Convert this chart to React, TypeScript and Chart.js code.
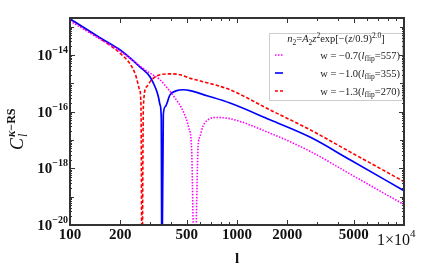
import React, { useEffect, useRef } from "react";
import { Chart, registerables } from "chart.js";
Chart.register(...registerables);

// w = -0.7 (l_flip = 557), magenta dotted
const L_W07 = [100, 151, 199, 262, 290, 346, 386, 424, 478, 514, 535, 557, 585, 600, 625, 670, 752, 908, 1576, 2736, 4750, 10000];
const C_W07 = [1.58e-13, 3.63e-14, 1.38e-14, 4.07e-15, 2.63e-15, 1.32e-15, 6.31e-16, 3.09e-16, 9.77e-17, 2.69e-17, 4.47e-18, 1e-22, 5.89e-18, 1.32e-17, 3.02e-17, 5.13e-17, 6.17e-17, 5.62e-17, 1.74e-17, 3.98e-18, 6.31e-19, 5.25e-20];

// w = -1.0 (l_flip = 355), blue solid
const L_W10 = [100, 123, 151, 199, 229, 262, 301, 320, 332, 340, 346, 352, 355, 362, 372, 397, 431, 478, 523, 661, 908, 1576, 2736, 4750, 10000];
const C_W10 = [1.86e-13, 8.71e-14, 4.07e-14, 1.51e-14, 7.76e-15, 3.8e-15, 1.7e-15, 8.5e-16, 4.9e-16, 2.9e-16, 1.74e-16, 6.03e-17, 1e-22, 7.76e-17, 1.51e-16, 3.89e-16, 5.37e-16, 5.89e-16, 5.5e-16, 3.63e-16, 2.0e-16, 5.13e-17, 1.26e-17, 2.0e-18, 1.62e-19];

// w = -1.3 (l_flip = 270), red dashed
const L_W13 = [100, 123, 151, 175, 199, 229, 248, 261, 266, 270, 275, 288, 308, 346, 397, 456, 523, 680, 908, 1576, 2736, 4750, 10000];
const C_W13 = [1.86e-13, 8.32e-14, 3.8e-14, 2.09e-14, 1.15e-14, 4.79e-15, 1.82e-15, 5.89e-16, 1.74e-16, 1e-22, 1.51e-16, 7.59e-16, 1.32e-15, 2.0e-15, 2.14e-15, 2.0e-15, 1.51e-15, 1.0e-15, 5.89e-16, 1.15e-16, 2.29e-17, 3.8e-18, 3.39e-19];

const X_MIN = 100;
const X_MAX = 10000;
const Y_MIN = 1e-20;
const Y_MAX = 2e-13;
const X_MAJOR = [100, 200, 500, 1000, 2000, 5000, 10000];
const X_TICK_LABELS = ["100", "200", "500", "1000", "2000", "5000"];
const Y_LABEL_EXPS = [-20, -18, -16, -14];
const LEGEND_W = ["−0.7", "−1.0", "−1.3"];
const LEGEND_FLIP = ["557", "355", "270"];
const LEGEND_COLORS = ["#ff00ff", "#0000ff", "#ff0000"];
const LEGEND_DASH = [[1.5, 1.5], [], [3, 2]];

const SERIF = '"Liberation Serif", "Times New Roman", serif';

type Run = { t: string; size: number; italic?: boolean; bold?: boolean; dy?: number };

function fontOf(r: Run) {
  return `${r.italic ? "italic " : ""}${r.bold ? "bold " : ""}${r.size}px ${SERIF}`;
}
function runsWidth(ctx: CanvasRenderingContext2D, runs: Run[]) {
  let w = 0;
  for (const r of runs) {
    ctx.font = fontOf(r);
    w += ctx.measureText(r.t).width;
  }
  return w;
}
function drawRuns(ctx: CanvasRenderingContext2D, runs: Run[], x: number, y: number) {
  let cx = x;
  ctx.textAlign = "left";
  ctx.textBaseline = "alphabetic";
  for (const r of runs) {
    ctx.font = fontOf(r);
    ctx.fillText(r.t, cx, y + (r.dy || 0));
    cx += ctx.measureText(r.t).width;
  }
  return cx;
}

const decorPlugin = {
  id: "decor",
  afterDatasetsDraw(chart: any) {
    const ctx: CanvasRenderingContext2D = chart.ctx;
    const { left, right, top, bottom } = chart.chartArea;
    const xs = chart.scales.x;
    const ys = chart.scales.y;
    ctx.save();

    // legend box
    const lx0 = 269, ly0 = 33, lx1 = 403, ly1 = 101;
    ctx.fillStyle = "#ffffff";
    ctx.fillRect(lx0, ly0, lx1 - lx0, ly1 - ly0);
    ctx.strokeStyle = "#cccccc";
    ctx.lineWidth = 1;
    ctx.strokeRect(lx0 + 0.5, ly0 + 0.5, lx1 - lx0 - 1, ly1 - ly0 - 1);
    ctx.fillStyle = "#222";
    const title: Run[] = [
      { t: "n", size: 10.5, italic: true },
      { t: "2", size: 7.5, dy: 2.5 },
      { t: "=", size: 10.5 },
      { t: "A", size: 10.5, italic: true },
      { t: "2", size: 7.5, dy: 2.5 },
      { t: "z", size: 10.5, italic: true },
      { t: "2", size: 7.5, dy: -4 },
      { t: "exp[−(", size: 10.5 },
      { t: "z", size: 10.5, italic: true },
      { t: "/0.9)", size: 10.5 },
      { t: "2.0", size: 7.5, dy: -4 },
      { t: "]", size: 10.5 },
    ];
    const tw = runsWidth(ctx, title);
    drawRuns(ctx, title, 336 - tw / 2, 42);
    const rowY = [55, 73, 91];
    for (let i = 0; i < 3; i++) {
      const y = rowY[i];
      ctx.strokeStyle = LEGEND_COLORS[i];
      ctx.lineWidth = 1.6;
      ctx.setLineDash(LEGEND_DASH[i]);
      ctx.beginPath();
      ctx.moveTo(275, y);
      ctx.lineTo(283, y);
      ctx.stroke();
      ctx.setLineDash([]);
      const runs: Run[] = [
        { t: `w = ${LEGEND_W[i]}(`, size: 10.5 },
        { t: "l", size: 10.5, italic: true },
        { t: "flip", size: 7.5, dy: 2.5 },
        { t: `=${LEGEND_FLIP[i]})`, size: 10.5 },
      ];
      ctx.fillStyle = "#222";
      const w = runsWidth(ctx, runs);
      drawRuns(ctx, runs, 400 - w, y + 3.5);
    }

    // frame
    ctx.strokeStyle = "#333";
    ctx.lineWidth = 2;
    ctx.strokeRect(left, top, right - left, bottom - top);

    // ticks
    ctx.lineWidth = 1;
    const seg = (x0: number, y0: number, x1: number, y1: number) => {
      ctx.beginPath();
      ctx.moveTo(x0, y0);
      ctx.lineTo(x1, y1);
      ctx.stroke();
    };
    for (let d = 2; d <= 4; d++) {
      for (let k = 1; k <= 9; k++) {
        const v = k * Math.pow(10, d);
        if (v < X_MIN || v > X_MAX) continue;
        const px = Math.round(xs.getPixelForValue(v)) + 0.5;
        const len = X_MAJOR.includes(v) ? 5 : 3;
        seg(px, bottom, px, bottom - len);
        seg(px, top, px, top + len);
      }
    }
    for (let e = -20; e <= -13; e++) {
      for (let k = 1; k <= 9; k++) {
        const v = k * Math.pow(10, e);
        if (v > Y_MAX) continue;
        const py = Math.round(ys.getPixelForValue(v)) + 0.5;
        const len = k === 1 ? (e % 2 === 0 ? 5 : 4) : 2;
        seg(left, py, left + len, py);
        seg(right, py, right - len, py);
      }
    }

    // y tick labels
    ctx.fillStyle = "#111";
    for (const e of Y_LABEL_EXPS) {
      const py = ys.getPixelForValue(Math.pow(10, e));
      const runs: Run[] = [
        { t: "10", size: 15, bold: true },
        { t: `−${-e}`, size: 10, bold: true, dy: -7 },
      ];
      const w = runsWidth(ctx, runs);
      drawRuns(ctx, runs, 68 - w, py + 5);
    }
    // x tick labels
    ctx.font = `bold 15px ${SERIF}`;
    ctx.textAlign = "center";
    ctx.textBaseline = "alphabetic";
    for (let i = 0; i < X_TICK_LABELS.length; i++) {
      const px = xs.getPixelForValue(X_MAJOR[i]);
      ctx.fillText(X_TICK_LABELS[i], px, 239);
    }
    {
      const px = xs.getPixelForValue(X_MAJOR[X_MAJOR.length - 1]);
      const runs: Run[] = [
        { t: "1×10", size: 16 },
        { t: "4", size: 11, dy: -8 },
      ];
      drawRuns(ctx, runs, px - 27, 245);
    }
    // x axis title
    ctx.font = `bold 15px ${SERIF}`;
    ctx.textAlign = "center";
    ctx.fillText("l", (left + right) / 2, 263);

    // y axis title (rotated)
    ctx.save();
    ctx.translate(23, 150);
    ctx.rotate(-Math.PI / 2);
    ctx.textAlign = "left";
    ctx.font = `italic 18px ${SERIF}`;
    ctx.fillText("C", 0, 0);
    const cw = ctx.measureText("C").width;
    ctx.font = `italic 12px ${SERIF}`;
    ctx.fillText("l", cw + 1, 4);
    const sup: Run[] = [
      { t: "κ", size: 12, italic: true, bold: true },
      { t: "−RS", size: 12, bold: true },
    ];
    drawRuns(ctx, sup, cw + 1, -8);
    ctx.restore();

    ctx.restore();
  },
};

export default function App() {
  const ref = useRef<HTMLCanvasElement | null>(null);
  useEffect(() => {
    if (!ref.current) return;
    const mk = (L: number[], C: number[]) => L.map((l, i) => ({ x: l, y: C[i] }));
    const chart = new Chart(ref.current, {
      type: "line",
      data: {
        datasets: [
          {
            label: "w = -0.7",
            data: mk(L_W07, C_W07),
            borderColor: "#ff00ff",
            borderWidth: 1.6,
            borderDash: [1.5, 1.5],
            pointRadius: 0,
            cubicInterpolationMode: "monotone",
          },
          {
            label: "w = -1.0",
            data: mk(L_W10, C_W10),
            borderColor: "#0000ff",
            borderWidth: 1.7,
            pointRadius: 0,
            cubicInterpolationMode: "monotone",
          },
          {
            label: "w = -1.3",
            data: mk(L_W13, C_W13),
            borderColor: "#ff0000",
            borderWidth: 1.6,
            borderDash: [3.5, 2],
            pointRadius: 0,
            cubicInterpolationMode: "monotone",
          },
        ],
      },
      options: {
        responsive: false,
        animation: false,
        layout: { padding: { left: 70, top: 18, right: 36, bottom: 50 } },
        plugins: { legend: { display: false }, tooltip: { enabled: false } },
        scales: {
          x: { type: "logarithmic", min: X_MIN, max: X_MAX, display: false },
          y: { type: "logarithmic", min: Y_MIN, max: Y_MAX, display: false },
        },
      },
      plugins: [decorPlugin],
    });
    return () => chart.destroy();
  }, []);
  return (
    <div style={{ position: "fixed", left: 0, top: 0, width: 440, height: 275, background: "#fff" }}>
      <canvas ref={ref} width={440} height={275} />
    </div>
  );
}
